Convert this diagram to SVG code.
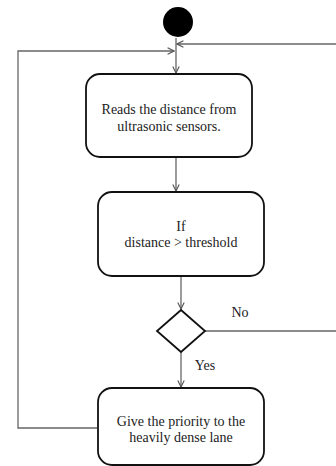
<svg xmlns="http://www.w3.org/2000/svg" width="336" height="466" viewBox="0 0 336 466">
<style>
.box{fill:#fff;stroke:#111;stroke-width:1.8}
.ln{fill:none;stroke:#666;stroke-width:1.3}
.t{font-family:'Liberation Serif','DejaVu Serif',serif;font-size:14px;fill:#222;text-anchor:middle}
</style>
<defs>
<marker id="arr" viewBox="0 0 10 10" refX="9" refY="5" markerWidth="8" markerHeight="8" markerUnits="userSpaceOnUse" orient="auto">
<path d="M1,1 L9,5 L1,9" fill="none" stroke="#555" stroke-width="1.4"/>
</marker>
</defs>
<rect width="336" height="466" fill="#fff"/>
<g id="connectors">
<path class="ln" d="M176,38 V73" marker-end="url(#arr)"/>
<path class="ln" d="M336,44 H177" marker-end="url(#arr)"/>
<path class="ln" d="M97,428 H18 V51 H174" marker-end="url(#arr)"/>
<path class="ln" d="M176,157 V191" marker-end="url(#arr)"/>
<path class="ln" d="M181,276 V309" marker-end="url(#arr)"/>
<path class="ln" d="M205,331 H336"/>
<path class="ln" d="M181,352 V387" marker-end="url(#arr)"/>
</g>
<g id="start"><circle cx="178" cy="22" r="15" fill="#000"/></g>
<g id="read">
<rect class="box" x="86" y="74" width="166" height="83" rx="14"/>
<text class="t" x="169" y="114">Reads the distance from</text>
<text class="t" x="169" y="131">ultrasonic sensors.</text>
</g>
<g id="check">
<rect class="box" x="98" y="192" width="166" height="84" rx="14"/>
<text class="t" x="181" y="231">If</text>
<text class="t" x="181" y="247">distance &gt; threshold</text>
</g>
<g id="decision">
<polygon class="box" points="181,310 205,331 181,352 157,331"/>
<text class="t" x="240" y="317">No</text>
<text class="t" x="205" y="370">Yes</text>
</g>
<g id="priority">
<rect class="box" x="98" y="388" width="166" height="77" rx="14"/>
<text class="t" x="181" y="426">Give the priority to the</text>
<text class="t" x="181" y="442">heavily dense lane</text>
</g>
</svg>
